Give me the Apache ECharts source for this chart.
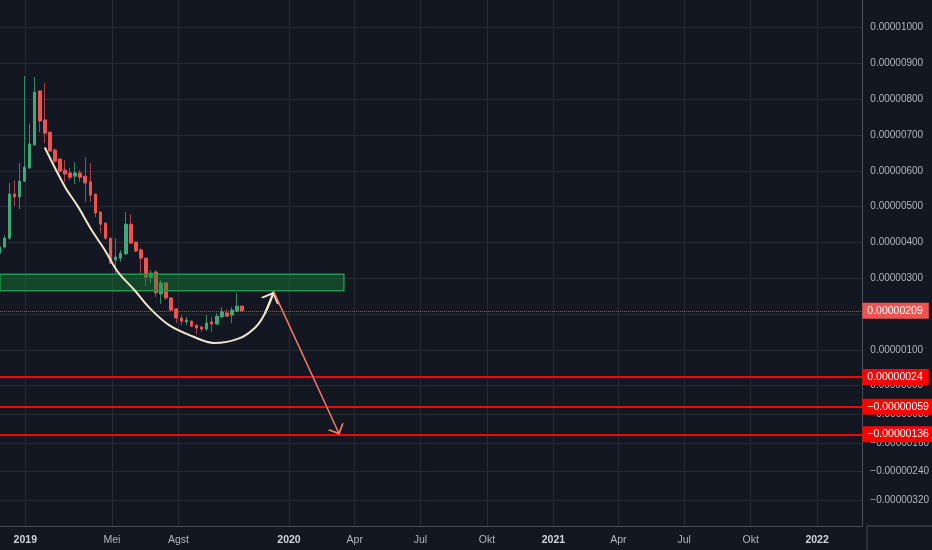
<!DOCTYPE html>
<html><head><meta charset="utf-8">
<script src="https://cdn.jsdelivr.net/npm/echarts@6/dist/echarts.min.js"></script>
<style>html,body{margin:0;padding:0;background:#131722;}#c{width:932px;height:550px;}</style>
</head><body><div id="c"></div>
<script>
// ---- data (weekly candles, prices in BTC) ----
const weeks = ['2018-11-26','2018-12-03','2018-12-10','2018-12-17','2018-12-24','2018-12-31',
 '2019-01-07','2019-01-14','2019-01-21','2019-01-28','2019-02-04','2019-02-11','2019-02-18','2019-02-25',
 '2019-03-04','2019-03-11','2019-03-18','2019-03-25','2019-04-01','2019-04-08','2019-04-15','2019-04-22','2019-04-29',
 '2019-05-06','2019-05-13','2019-05-20','2019-05-27','2019-06-03','2019-06-10','2019-06-17','2019-06-24',
 '2019-07-01','2019-07-08','2019-07-15','2019-07-22','2019-07-29','2019-08-05','2019-08-12','2019-08-19','2019-08-26',
 '2019-09-02','2019-09-09','2019-09-16','2019-09-23','2019-09-30','2019-10-07','2019-10-14','2019-10-21','2019-10-28'];
const open  = [370e-8,387e-8,412e-8,535e-8,527e-8,571e-8,608e-8,672e-8,823e-8,742e-8,708e-8,658e-8,633e-8,602e-8,594e-8,585e-8,594e-8,585e-8,569e-8,535e-8,485e-8,454e-8,412e-8,351e-8,356e-8,368e-8,451e-8,401e-8,379e-8,356e-8,303e-8,317e-8,256e-8,287e-8,245e-8,214e-8,189e-8,178e-8,180e-8,169e-8,164e-8,158e-8,178e-8,172e-8,192e-8,203e-8,197e-8,208e-8,222e-8];
const close = [388e-8,412e-8,535e-8,527e-8,571e-8,610e-8,675e-8,820e-8,739e-8,705e-8,655e-8,627e-8,599e-8,591e-8,582e-8,594e-8,582e-8,566e-8,532e-8,482e-8,451e-8,412e-8,342e-8,359e-8,370e-8,451e-8,398e-8,376e-8,356e-8,303e-8,314e-8,259e-8,287e-8,245e-8,211e-8,189e-8,180e-8,183e-8,166e-8,161e-8,158e-8,175e-8,172e-8,194e-8,206e-8,194e-8,211e-8,222e-8,209e-8];
const low   = [364e-8,383e-8,407e-8,502e-8,493e-8,569e-8,605e-8,672e-8,708e-8,678e-8,655e-8,622e-8,594e-8,569e-8,574e-8,563e-8,569e-8,513e-8,513e-8,471e-8,426e-8,407e-8,341e-8,314e-8,346e-8,365e-8,398e-8,373e-8,314e-8,278e-8,287e-8,247e-8,228e-8,239e-8,208e-8,175e-8,169e-8,169e-8,164e-8,144e-8,150e-8,153e-8,150e-8,169e-8,189e-8,192e-8,175e-8,206e-8,207e-8];
const high  = [392e-8,420e-8,566e-8,574e-8,622e-8,865e-8,731e-8,862e-8,823e-8,845e-8,708e-8,663e-8,633e-8,630e-8,608e-8,624e-8,602e-8,638e-8,622e-8,535e-8,485e-8,454e-8,412e-8,412e-8,379e-8,485e-8,479e-8,401e-8,384e-8,356e-8,323e-8,323e-8,295e-8,289e-8,245e-8,217e-8,197e-8,192e-8,183e-8,169e-8,166e-8,197e-8,192e-8,203e-8,220e-8,214e-8,220e-8,259e-8,225e-8];
const lastPrice = 209e-8;
const levels = [24e-8, -59e-8, -136e-8];

// annotations
const boxStart = '2018-10-01', boxEnd = '2020-03-17', boxTop = 311e-8, boxBottom = 265e-8;
const arcDates  = ['2019-01-28','2019-02-25','2019-03-15','2019-04-03','2019-04-21','2019-05-09','2019-06-01','2019-06-24','2019-07-19','2019-08-20','2019-09-19','2019-10-24','2019-11-16','2019-11-29','2019-12-11'];
const arcValues = [665e-8,555e-8,500e-8,434e-8,379e-8,318e-8,267e-8,213e-8,169e-8,138e-8,119e-8,132e-8,164e-8,203e-8,262e-8];
const arrowFrom = ['2019-12-11', 262e-8], arrowTo = ['2020-03-11', -137e-8];

// axis ticks
const xTickDates  = ['2019-01-01','2019-05-01','2019-08-01','2020-01-01','2020-04-01','2020-07-01','2020-10-01','2021-01-01','2021-04-01','2021-07-01','2021-10-01','2022-01-01'];
const xTickLabels = ['2019','Mei','Agst','2020','Apr','Jul','Okt','2021','Apr','Jul','Okt','2022'];
const yLabelValues = [1000e-8,900e-8,800e-8,700e-8,600e-8,500e-8,400e-8,300e-8,100e-8,0,-80e-8,-160e-8,-240e-8,-320e-8];
const yGridValues  = [1000e-8,900e-8,800e-8,700e-8,600e-8,500e-8,400e-8,300e-8,200e-8,100e-8,0,-80e-8,-160e-8,-240e-8,-320e-8];

// ---- helpers ----
const P = s => Date.parse(s + 'T00:00:00Z');
const fmt = v => (v < -1e-12 ? '\u2212' : '') + (Math.abs(v) < 1e-12 ? 0 : Math.abs(v)).toFixed(8);
const FONT = 'Liberation Sans, Arial, sans-serif';
const up = '#3fa876', down = '#ef5350', wickUp = '#2f8a5f', wickDown = '#a8434a';
const axisColor = '#4b4f5a', gridColor = '#272b37';
const chevron = 'path://M6,-12L6.01,-12Z M6,0L12,12L10.4,12L6,3.2L1.6,12L0,12Z';
const xTickTs = xTickDates.map(P);
const tagLabel = bg => ({show: true, position: 'end', distance: 0, formatter: p => fmt(p.value), color: '#fff',
  backgroundColor: bg, padding: [3, 6, 2, 5], fontSize: 10.5, fontFamily: FONT});

const chart = echarts.init(document.getElementById('c'));
chart.setOption({
  backgroundColor: '#131722',
  animation: false,
  grid: {left: 0, right: 65, top: 0, bottom: 24, containLabel: false},
  xAxis: {
    type: 'value', min: P('2018-11-27'), max: P('2022-03-04') + 14 * 3600e3, scale: true,
    axisLine: {show: true, onZero: false, lineStyle: {color: axisColor, width: 1}},
    axisTick: {show: false, customValues: xTickTs},
    splitLine: {show: true, lineStyle: {color: gridColor, width: 1}},
    axisLabel: {
      customValues: xTickTs, margin: 9, color: '#b2b5be', fontSize: 10.5, fontFamily: FONT,
      formatter: function (value) {
        let bi = 0, bd = Infinity;
        xTickTs.forEach((t, i) => { const d = Math.abs(t - value); if (d < bd) { bd = d; bi = i; } });
        const t = xTickLabels[bi];
        return /^\d{4}$/.test(t) ? '{y|' + t + '}' : '{m|' + t + '}';
      },
      rich: {y: {fontWeight: 'bold', color: '#d1d4dc', fontSize: 10.5, fontFamily: FONT}, m: {color: '#b2b5be', fontSize: 10.5, fontFamily: FONT}}
    }
  },
  yAxis: {
    type: 'value', position: 'right', min: -392e-8, max: 1077e-8, scale: true,
    axisLine: {show: true, lineStyle: {color: axisColor, width: 1}},
    axisTick: {show: false, customValues: yGridValues},
    splitLine: {show: true, lineStyle: {color: gridColor, width: 1}},
    axisLabel: {customValues: yLabelValues, formatter: fmt, color: '#b2b5be', fontSize: 10, fontFamily: FONT, margin: 8}
  },
  graphic: [
    {type: 'line', silent: true, shape: {x1: 867, y1: 526, x2: 932, y2: 526}, style: {stroke: axisColor, lineWidth: 1}},
    {type: 'line', silent: true, shape: {x1: 867, y1: 526, x2: 867, y2: 550}, style: {stroke: axisColor, lineWidth: 1}}
  ],
  series: [
    {
      type: 'candlestick', name: 'wicks', silent: true, z: 2, barWidth: 1,
      data: weeks.map((d, i) => [P(d), open[i], close[i], low[i], high[i]]),
      itemStyle: {color: wickUp, color0: wickDown, borderColor: wickUp, borderColor0: wickDown, borderWidth: 1}
    },
    {
      type: 'candlestick', name: 'bodies', silent: true, z: 3, barWidth: 3.1,
      data: weeks.map((d, i) => [P(d), open[i], close[i], Math.min(open[i], close[i]), Math.max(open[i], close[i])]),
      itemStyle: {color: up, color0: down, borderColor: up, borderColor0: down, borderWidth: 1},
      markLine: {
        silent: true, symbol: ['none', 'none'], animation: false, precision: 10,
        data: [
          {yAxis: lastPrice, lineStyle: {color: 'rgba(239,83,80,0.75)', type: 'dotted', width: 1}, label: tagLabel('#ef5350')}
        ].concat(levels.map(v => ({
          yAxis: v, lineStyle: {color: '#ff0000', type: 'solid', width: 2}, label: tagLabel('#ff0000')
        })))
      }
    },
    {
      type: 'line', name: 'arc', z: 5, silent: true, smooth: 0.35, symbol: 'none',
      data: arcDates.map((d, i) => [P(d), arcValues[i]]),
      lineStyle: {color: '#f2e6c9', width: 2},
      markArea: {
        silent: true, z: 4,
        itemStyle: {color: 'rgba(22,140,55,0.4)', borderColor: '#1f9a42', borderWidth: 1.5},
        data: [[{xAxis: P(boxStart), yAxis: boxTop}, {xAxis: P(boxEnd), yAxis: boxBottom}]]
      }
    },
    {
      type: 'lines', coordinateSystem: 'cartesian2d', z: 6, silent: true,
      symbol: ['none', chevron], symbolSize: [10, 20],
      lineStyle: {color: '#f2e6c9', width: 2, opacity: 1, curveness: 0},
      data: [{coords: [[P(arcDates[arcDates.length - 2]), arcValues[arcValues.length - 2]], [P(arcDates[arcDates.length - 1]), arcValues[arcValues.length - 1]]]}]
    },
    {
      type: 'lines', coordinateSystem: 'cartesian2d', z: 6, silent: true,
      symbol: ['none', chevron], symbolSize: [9, 18],
      lineStyle: {color: '#f47b67', width: 1.5, opacity: 1, curveness: 0},
      data: [{coords: [[P(arrowFrom[0]), arrowFrom[1]], [P(arrowTo[0]), arrowTo[1]]]}]
    }
  ]
});
</script>
</body></html>
